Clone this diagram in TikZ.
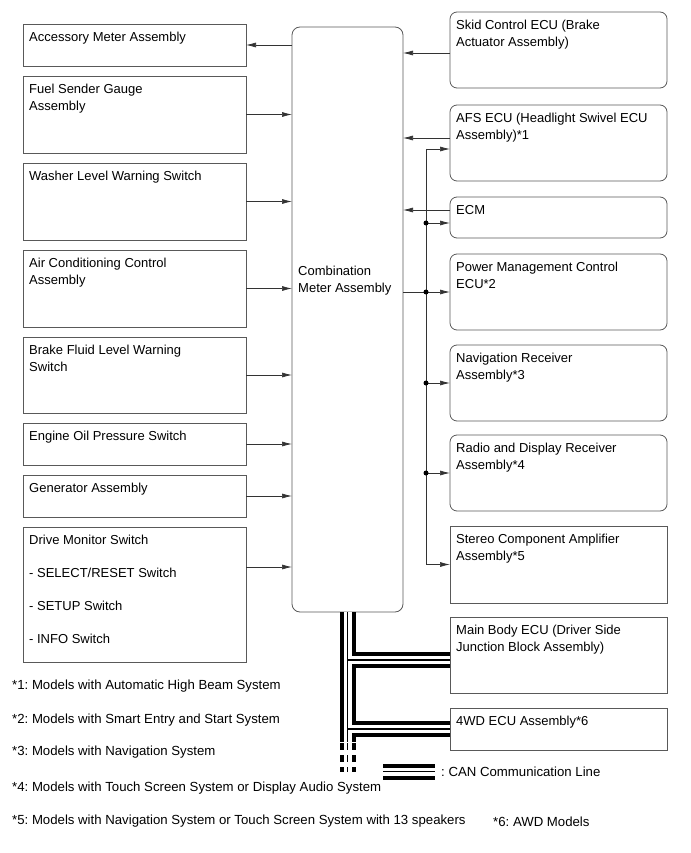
\documentclass[tikz,border=0pt]{standalone}
\usepackage{fontspec}
\setmainfont{Liberation Sans}
\usetikzlibrary{arrows.meta}
\usetikzlibrary{calc}
\frenchspacing

\begin{document}
\begin{tikzpicture}[x=1pt, y={(0pt,-1pt)},
	unit/.style = {draw=black!65, line width=0.8pt, anchor=north west,
		inner sep=0pt, outer sep=0pt},
	lunit/.style = {unit, minimum width=223pt},
	runit/.style = {unit, minimum width=217pt},
	ecu/.style = {runit, rounded corners=7pt},
	tx/.style = {align=left, inner sep=0pt, font=\fontsize{13}{16.5}\selectfont},
	txt/.style = {tx, anchor=north west, xshift=6pt, yshift=-8pt},
	sig/.style = {draw=black!80, line width=0.7pt, -{Latex[length=10pt,width=5pt]}},
	wire/.style = {draw=black!80, line width=0.7pt},
	note/.style = {anchor=west, inner sep=0pt, font=\fontsize{13.2}{16}\selectfont}]

	\useasboundingbox (0,0) rectangle (690,853);

	% Combination meter
	\node[unit, rounded corners=8pt, minimum width=111pt, minimum height=585pt,
		label={[tx, anchor=west, xshift=6pt, yshift=39pt]west:{Combination\\Meter Assembly}}] (meter) at (292,27) {};

	% Left side
	\node[lunit, minimum height=42pt, label={[txt]north west:{Accessory Meter Assembly}}] (acc) at (23,24) {};
	\node[lunit, minimum height=77pt, label={[txt]north west:{Fuel Sender Gauge\\Assembly}}] (fuel) at (23,76) {};
	\node[lunit, minimum height=77pt, label={[txt]north west:{Washer Level Warning Switch}}] (washer) at (23,163) {};
	\node[lunit, minimum height=77pt, label={[txt]north west:{Air Conditioning Control\\Assembly}}] (aircon) at (23,250) {};
	\node[lunit, minimum height=76pt, label={[txt]north west:{Brake Fluid Level Warning\\Switch}}] (brake) at (23,337) {};
	\node[lunit, minimum height=42pt, label={[txt]north west:{Engine Oil Pressure Switch}}] (oil) at (23,423) {};
	\node[lunit, minimum height=42pt, label={[txt]north west:{Generator Assembly}}] (gen) at (23,475) {};
	\node[lunit, minimum height=135pt, label={[txt]north west:{Drive Monitor Switch\\[16.5pt]- SELECT/RESET Switch\\[16.5pt]- SETUP Switch\\[16.5pt]- INFO Switch}}] (drive) at (23,527) {};

	% Right side
	\node[ecu, minimum height=76pt, label={[txt]north west:{Skid Control ECU (Brake\\Actuator Assembly)}}] (skid) at (450,12) {};
	\node[ecu, minimum height=76pt, label={[txt]north west:{AFS ECU (Headlight Swivel ECU\\Assembly)*1}}] (afs) at (450,105) {};
	\node[ecu, minimum height=41pt, label={[txt]north west:{ECM}}] (ecm) at (450,197) {};
	\node[ecu, minimum height=76pt, label={[txt]north west:{Power Management Control\\ECU*2}}] (power) at (450,254) {};
	\node[ecu, minimum height=76pt, label={[txt]north west:{Navigation Receiver\\Assembly*3}}] (nav) at (450,345) {};
	\node[ecu, minimum height=76pt, label={[txt]north west:{Radio and Display Receiver\\Assembly*4}}] (radio) at (450,435) {};
	\node[runit, minimum height=77pt, label={[txt]north west:{Stereo Component Amplifier\\Assembly*5}}] (stereo) at (450,526) {};
	\node[runit, minimum height=76pt, label={[txt]north west:{Main Body ECU (Driver Side\\Junction Block Assembly)}}] (mainbody) at (450,617) {};
	\node[runit, minimum height=42pt, label={[txt]north west:{4WD ECU Assembly*6}}] (fourwd) at (450,708) {};

	% Signal lines, left
	\draw[sig] (acc.east -| meter.west) -- (acc.east);
	\foreach \n in {fuel, washer, aircon, brake, oil, gen}
		\draw[sig] (\n.east) -- (\n.east -| meter.west);
	\coordinate (dm) at ([yshift=-40pt]drive.north east);
	\draw[sig] (dm) -- (dm -| meter.west);

	% Signal lines, right
	\coordinate (skidout) at ([yshift=-41pt]skid.north west);
	\coordinate (afsout) at ([yshift=-33pt]afs.north west);
	\coordinate (afsin) at ([yshift=-44pt]afs.north west);
	\coordinate (ecmout) at ([yshift=-13pt]ecm.north west);
	\coordinate (ecmin) at ([yshift=-26pt]ecm.north west);
	\coordinate (bus) at (426,0);
	\foreach \n in {skidout, afsout, ecmout}
		\draw[sig] (\n) -- (\n -| meter.east);
	\draw[wire] (afsin -| bus) -- (stereo.west -| bus);
	\draw[sig] (power.west -| meter.east) -- (power.west);
	\foreach \n in {afsin, ecmin, nav.west, radio.west, stereo.west}
		\draw[sig] (\n -| bus) -- (\n);
	\foreach \n in {ecmin, power.west, nav.west, radio.west}
		\fill (\n -| bus) circle (2.5pt);

	% CAN lines
	\coordinate (canend) at ($(meter.south)+(0,130)$);
	\coordinate (mbjoin) at ($(meter.south |- mainbody.west)+(0,5)$);
	\coordinate (lga) at (383,771.5);
	\coordinate (lgb) at (435,771.5);
	\foreach \w/\c in {16/black, 8/white, 1.2/black} {
		\draw[line width=\w pt, \c] (meter.south) -- (canend)
			(mbjoin) -- (mbjoin -| mainbody.west)
			(meter.south |- fourwd.west) -- (fourwd.west)
			(lga) -- (lgb);
		\draw[line width=\w pt, \c, dash pattern=on 7pt off 5pt]
			($(canend)+(0,1)$) -- ($(canend)+(0,30)$);
	}
	\node[note] (lgtxt) at (441,771.5) {: CAN Communication Line};

	% Notes
	\node[note] (fn1) at (12,686) {*1: Models with Automatic High Beam System};
	\node[note] (fn2) at (12,720) {*2: Models with Smart Entry and Start System};
	\node[note] (fn3) at (12,752) {*3: Models with Navigation System};
	\node[note] (fn4) at (12,788) {*4: Models with Touch Screen System or Display Audio System};
	\node[note] (fn5) at (12,821) {*5: Models with Navigation System or Touch Screen System with 13 speakers};
	\node[note] (fn6) at (493,822) {*6: AWD Models};

\end{tikzpicture}
\end{document}
